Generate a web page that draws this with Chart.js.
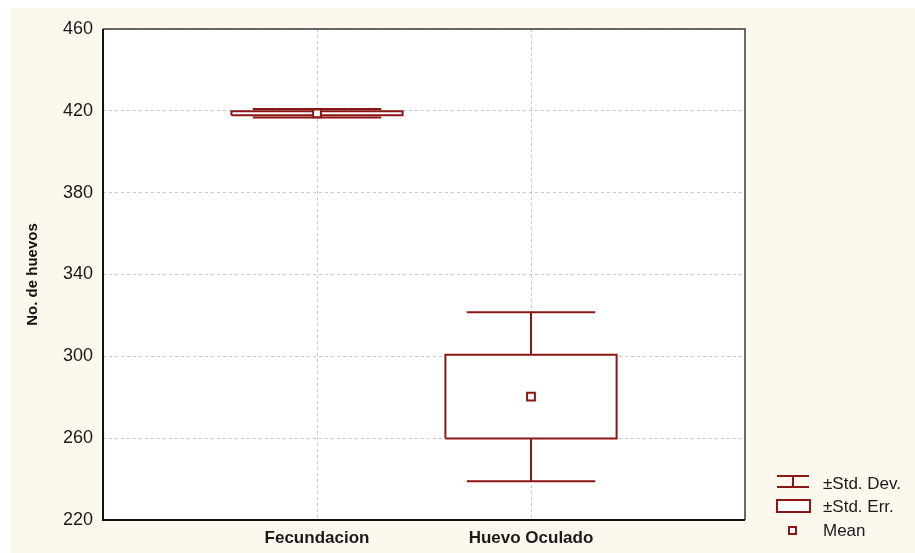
<!DOCTYPE html>
<html>
<head>
<meta charset="utf-8">
<script src="https://cdn.jsdelivr.net/npm/chart.js@4/dist/chart.umd.min.js"></script>
<style>
  html, body { margin: 0; padding: 0; background: #ffffff; }
  canvas { display: block; }
</style>
</head>
<body>
<canvas id="chart" width="915" height="553"></canvas>
<script>
// Egg counts per group: mean, standard error and standard deviation
const categories = ['Fecundacion', 'Huevo Oculado'];
const means = [418.8, 280.3];
const stdErrors = [1.0, 20.5];
const stdDevs = [2.1, 41.3];
const yTicks = [220, 260, 300, 340, 380, 420, 460];
const legendLabels = ['±Std. Dev.', '±Std. Err.', 'Mean'];

const RED = '#8b1616';
const CREAM = '#fdf8ee';
const BOX_HALF = 0.4;   // half width of the ±SE box, in category units
const CAP_HALF = 0.3;   // half width of the ±SD caps

// lower "order" is painted later, i.e. on top
function segment(points, filled) {
  return {
    type: 'line', data: points, borderColor: RED, borderWidth: 2,
    pointRadius: 0, tension: 0, showLine: true,
    fill: filled ? 'shape' : false, backgroundColor: '#ffffff',
    order: filled ? 3 : 2
  };
}

const datasets = [];
categories.forEach((name, i) => {
  const c = i + 1, m = means[i], se = stdErrors[i], sd = stdDevs[i];
  // ±SE box (white inside)
  datasets.push(segment([
    {x: c - BOX_HALF, y: m - se}, {x: c + BOX_HALF, y: m - se},
    {x: c + BOX_HALF, y: m + se}, {x: c - BOX_HALF, y: m + se},
    {x: c - BOX_HALF, y: m - se}
  ], true));
  // ±SD whiskers
  datasets.push(segment([{x: c, y: m + se}, {x: c, y: m + sd}]));
  datasets.push(segment([{x: c - CAP_HALF, y: m + sd}, {x: c + CAP_HALF, y: m + sd}]));
  datasets.push(segment([{x: c, y: m - se}, {x: c, y: m - sd}]));
  datasets.push(segment([{x: c - CAP_HALF, y: m - sd}, {x: c + CAP_HALF, y: m - sd}]));
  // mean marker
  datasets.push({
    type: 'scatter', data: [{x: c, y: m}], pointStyle: 'rect', order: 1,
    pointRadius: 5.5, pointBackgroundColor: '#ffffff',
    pointBorderColor: RED, pointBorderWidth: 2
  });
});

const backdrop = {
  id: 'backdrop',
  beforeDraw(chart) {
    const {ctx, chartArea: a} = chart;
    ctx.save();
    ctx.fillStyle = '#ffffff';
    ctx.fillRect(0, 0, chart.width, chart.height);
    ctx.fillStyle = CREAM;
    ctx.fillRect(10, 8, chart.width - 10, chart.height - 8);
    ctx.fillStyle = '#ffffff';
    ctx.fillRect(a.left, a.top, a.right - a.left, a.bottom - a.top);
    ctx.restore();
  },
  afterDraw(chart) {
    const {ctx, chartArea: a} = chart;
    ctx.save();
    // plot frame
    ctx.strokeStyle = '#3a3a3a';
    ctx.lineWidth = 1.5;
    ctx.beginPath();
    ctx.moveTo(a.left, a.top); ctx.lineTo(a.right, a.top); ctx.lineTo(a.right, a.bottom);
    ctx.stroke();
    ctx.strokeStyle = '#111111';
    ctx.lineWidth = 2;
    ctx.beginPath();
    ctx.moveTo(a.left, a.top); ctx.lineTo(a.left, a.bottom); ctx.lineTo(a.right, a.bottom);
    ctx.stroke();

    // legend
    const sx = 777, tx = 823;
    ctx.strokeStyle = RED;
    ctx.lineWidth = 2;
    ctx.beginPath();
    ctx.moveTo(sx, 476); ctx.lineTo(sx + 32, 476);
    ctx.moveTo(sx, 487); ctx.lineTo(sx + 32, 487);
    ctx.moveTo(sx + 16, 476); ctx.lineTo(sx + 16, 487);
    ctx.stroke();
    ctx.fillStyle = '#ffffff';
    ctx.fillRect(sx, 500, 33, 12);
    ctx.strokeRect(sx, 500, 33, 12);
    ctx.fillRect(789, 527, 7, 7);
    ctx.strokeRect(789, 527, 7, 7);
    ctx.fillStyle = '#1a1a1a';
    ctx.font = '17px "Liberation Sans", Arial, sans-serif';
    ctx.textAlign = 'left';
    ctx.textBaseline = 'middle';
    const ys = [484, 507, 531];
    legendLabels.forEach((t, k) => ctx.fillText(t, tx, ys[k]));
    ctx.restore();
  }
};

new Chart(document.getElementById('chart'), {
  type: 'scatter',
  data: { datasets },
  options: {
    responsive: false,
    animation: false,
    events: [],
    layout: { padding: { top: 29, right: 170, bottom: 0, left: 0 } },
    plugins: { legend: { display: false }, tooltip: { enabled: false } },
    scales: {
      x: {
        type: 'linear', min: 0, max: 3,
        afterBuildTicks: s => { s.ticks = categories.map((_, i) => ({ value: i + 1 })); },
        afterFit: s => { s.height = 33; },
        grid: { color: '#c8c8c8', lineWidth: 1, drawTicks: false },
        border: { display: false, dash: [3, 3] },
        ticks: {
          callback: v => categories[v - 1],
          autoSkip: false, maxRotation: 0, padding: 8,
          color: '#1a1a1a',
          font: { family: '"Liberation Sans", Arial, sans-serif', size: 17, weight: 'bold' }
        }
      },
      y: {
        min: 220, max: 460,
        afterBuildTicks: s => { s.ticks = yTicks.map(v => ({ value: v })); },
        afterFit: s => { s.width = 103; },
        grid: { color: '#c8c8c8', lineWidth: 1, drawTicks: false },
        border: { display: false, dash: [3, 3] },
        ticks: {
          padding: 10, color: '#1a1a1a',
          font: { family: '"Liberation Sans", Arial, sans-serif', size: 18 }
        },
        title: {
          display: true, text: 'No. de huevos', color: '#111111',
          padding: { top: 24, bottom: 0 },
          font: { family: '"Liberation Sans", Arial, sans-serif', size: 15, weight: 'bold' }
        }
      }
    }
  },
  plugins: [backdrop]
});
</script>
</body>
</html>
